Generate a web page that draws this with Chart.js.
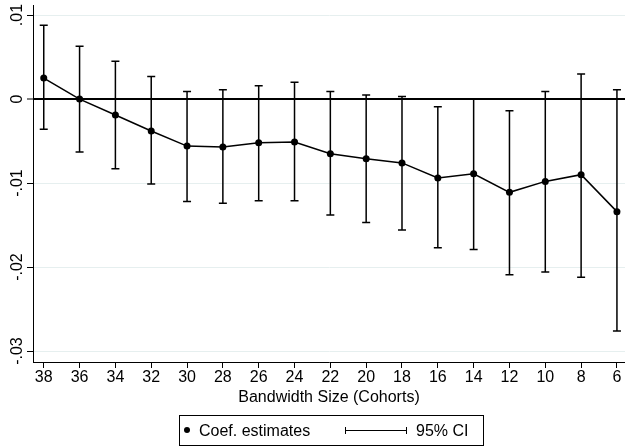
<!DOCTYPE html>
<html lang="en">
<head>
    <meta charset="UTF-8">
    <title>Bandwidth Size Coefficients</title>
    <script src="https://cdn.jsdelivr.net/npm/chart.js"></script>
    <style>
        body {
            margin: 0;
            background: #fff;
            font-family: 'Liberation Sans', Arial, sans-serif;
        }
        .wrap {
            position: relative;
            width: 625px;
            height: 448px;
        }
        .legend {
            position: absolute;
            left: 179px;
            top: 415px;
            width: 303px;
            height: 29px;
            border: 1px solid #000;
            box-sizing: content-box;
            font-size: 16px;
            line-height: 18px;
            color: #000;
        }
        .legend span { position: absolute; white-space: nowrap; }
        .dot {
            position: absolute;
            width: 6px;
            height: 6px;
            border-radius: 50%;
            background: #000;
        }
        .ci-line { position: absolute; background: #000; }
    </style>
</head>
<body>
    <div class="wrap">
        <canvas id="coefChart" width="625" height="448"></canvas>
        <div class="legend">
            <div class="dot" style="left:4px; top:11px;"></div>
            <span style="left:19px; top:6px;">Coef. estimates</span>
            <div class="ci-line" style="left:165px; top:14px; width:62px; height:1px;"></div>
            <div class="ci-line" style="left:165px; top:11px; width:1px; height:7px;"></div>
            <div class="ci-line" style="left:226px; top:11px; width:1px; height:7px;"></div>
            <span style="left:236px; top:6px;">95% CI</span>
        </div>
    </div>

    <script>
        // values
        const cohorts = [38, 36, 34, 32, 30, 28, 26, 24, 22, 20, 18, 16, 14, 12, 10, 8, 6];
        const coef = [0.0025, 0.0000, -0.0019, -0.0038, -0.0056, -0.0057, -0.0052, -0.0051, -0.0065, -0.0071, -0.0076, -0.0094, -0.0089, -0.0111, -0.0098, -0.0090, -0.0134];
        const ciLow = [-0.0036, -0.0063, -0.0083, -0.0101, -0.0122, -0.0124, -0.0121, -0.0121, -0.0138, -0.0147, -0.0156, -0.0177, -0.0179, -0.0209, -0.0206, -0.0212, -0.0276];
        const ciHigh = [0.0088, 0.0063, 0.0045, 0.0027, 0.0009, 0.0011, 0.0016, 0.0020, 0.0009, 0.0005, 0.0003, -0.0009, 0.0000, -0.0014, 0.0009, 0.0030, 0.0011];
        const yTickValues = [-0.03, -0.02, -0.01, 0, 0.01];
        const yTickLabels = ['-.03', '-.02', '-.01', '0', '.01'];

        Chart.defaults.font.family = "'Liberation Sans', Arial, sans-serif";
        Chart.defaults.color = '#000';

        const gridColor = '#e6efef';

        // vertical CI whiskers with caps
        const errorBars = {
            id: 'errorBars',
            beforeDatasetsDraw(chart) {
                const ctx = chart.ctx;
                const xs = chart.scales.x, ys = chart.scales.y;
                ctx.save();
                ctx.strokeStyle = '#000';
                ctx.lineWidth = 1.5;
                cohorts.forEach((c, i) => {
                    const px = xs.getPixelForValue(c);
                    const top = ys.getPixelForValue(ciHigh[i]);
                    const bot = ys.getPixelForValue(ciLow[i]);
                    ctx.beginPath();
                    ctx.moveTo(px, top);
                    ctx.lineTo(px, bot);
                    ctx.moveTo(px - 4, top);
                    ctx.lineTo(px + 4, top);
                    ctx.moveTo(px - 4, bot);
                    ctx.lineTo(px + 4, bot);
                    ctx.stroke();
                });
                ctx.restore();
            }
        };

        // rotated y tick labels, Stata style
        const yLabels = {
            id: 'yLabels',
            afterDraw(chart) {
                const ctx = chart.ctx;
                const ys = chart.scales.y;
                ctx.save();
                ctx.fillStyle = '#000';
                ctx.font = "16px 'Liberation Sans', Arial, sans-serif";
                ctx.textAlign = 'center';
                ctx.textBaseline = 'alphabetic';
                yTickValues.forEach((v, i) => {
                    ctx.save();
                    ctx.translate(22, ys.getPixelForValue(v));
                    ctx.rotate(-Math.PI / 2);
                    ctx.fillText(yTickLabels[i], 0, 0);
                    ctx.restore();
                });
                ctx.restore();
            }
        };

        new Chart(document.getElementById('coefChart'), {
            type: 'line',
            data: {
                datasets: [{
                    label: 'Coef. estimates',
                    data: cohorts.map((c, i) => ({ x: c, y: coef[i] })),
                    borderColor: '#000',
                    borderWidth: 1.5,
                    pointRadius: 3.5,
                    pointBorderWidth: 0,
                    pointBackgroundColor: '#000',
                    tension: 0,
                    fill: false,
                    clip: false
                }]
            },
            options: {
                responsive: false,
                animation: false,
                layout: {
                    autoPadding: false,
                    padding: { top: 5, right: 0, left: 0, bottom: 0 }
                },
                plugins: {
                    legend: { display: false },
                    tooltip: { enabled: false }
                },
                scales: {
                    x: {
                        type: 'linear',
                        reverse: true,
                        min: 5.55,
                        max: 38.6,
                        afterBuildTicks: (scale) => {
                            scale.ticks = cohorts.map(v => ({ value: v }));
                        },
                        afterFit: (scale) => {
                            scale.height = 86;
                            scale.paddingLeft = 0;
                            scale.paddingRight = 0;
                        },
                        border: { color: '#000', width: 1 },
                        grid: {
                            drawOnChartArea: false,
                            drawTicks: true,
                            tickLength: 6,
                            tickColor: '#000',
                            tickWidth: 1
                        },
                        ticks: {
                            font: { size: 16 },
                            padding: 0,
                            maxRotation: 0,
                            autoSkip: false,
                            callback: (v) => String(v)
                        },
                        title: {
                            display: true,
                            text: 'Bandwidth Size (Cohorts)',
                            font: { size: 16 },
                            padding: { top: 4, bottom: 41 }
                        }
                    },
                    y: {
                        min: -0.0313,
                        max: 0.0112,
                        afterBuildTicks: (scale) => {
                            scale.ticks = yTickValues.map(v => ({ value: v }));
                        },
                        afterFit: (scale) => { scale.width = 33; },
                        border: { color: '#000', width: 1 },
                        grid: {
                            color: (ctx) => (ctx.tick && ctx.tick.value === 0) ? '#000' : gridColor,
                            lineWidth: (ctx) => (ctx.tick && ctx.tick.value === 0) ? 2 : 1,
                            drawTicks: true,
                            tickLength: 6,
                            tickColor: '#000',
                            tickWidth: 1
                        },
                        ticks: { display: false }
                    }
                }
            },
            plugins: [errorBars, yLabels]
        });
    </script>
</body>
</html>
